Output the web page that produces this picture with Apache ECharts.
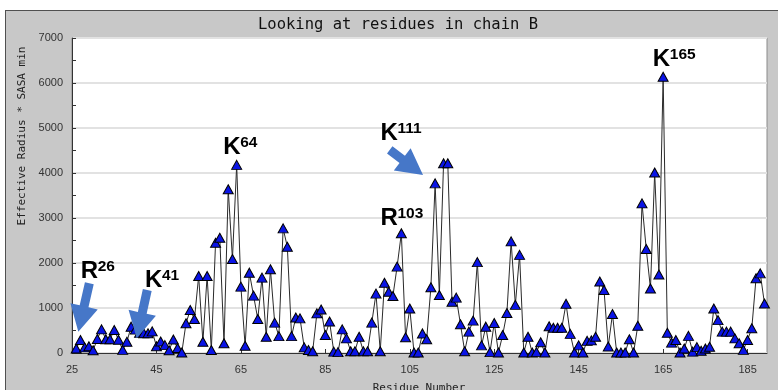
<!DOCTYPE html>
<html>
<head>
<meta charset="utf-8">
<script src="https://cdn.jsdelivr.net/npm/echarts@6/dist/echarts.min.js"></script>
<style>
html,body{margin:0;padding:0;background:#fff;overflow:hidden;}
#panel{position:absolute;left:5px;top:10px;width:800px;height:400px;background:#c8c8c8;border:1px solid #505050;}
#chart{position:absolute;left:0;top:0;width:778px;height:390px;}
</style>
</head>
<body>
<div id="panel"></div>
<div id="chart"></div>
<script>
// ---- data ----
const residues = [26,27,28,29,30,31,32,33,34,35,36,37,38,39,40,41,42,43,44,45,46,47,48,49,50,
51,52,53,54,55,56,57,58,59,60,61,62,63,64,65,66,67,68,69,70,71,72,73,74,75,76,77,78,79,80,
81,82,83,84,85,86,87,88,89,90,91,92,93,94,95,96,97,98,99,100,101,102,103,104,105,106,107,108,109,110,
111,112,113,114,115,116,117,118,119,120,121,122,123,124,125,126,127,128,129,130,131,132,133,134,135,136,137,138,139,140,
141,142,143,144,145,146,147,148,149,150,151,152,153,154,155,156,157,158,159,160,161,162,163,164,165,166,167,168,169,170,
171,172,173,174,175,176,177,178,179,180,181,182,183,184,185,186,187,188,189];
const effRadiusSasa = [100,290,125,150,60,310,525,305,305,510,295,70,250,585,520,450,440,440,480,150,255,175,60,300,110,
10,660,955,755,1710,250,1710,65,2450,2560,215,3640,2090,4180,1475,160,1785,1275,755,1675,360,1860,675,375,2770,2360,375,790,770,125,
65,40,880,965,400,700,30,20,525,325,40,40,360,40,40,675,1320,40,1560,1360,1265,1920,2660,350,990,10,10,435,305,1460,
3770,1290,4215,4215,1140,1230,640,40,475,720,2020,170,585,20,665,10,400,890,2480,1070,2180,10,360,10,20,240,10,595,560,560,
560,1095,425,10,170,10,270,280,360,1590,1400,145,865,10,10,10,305,10,605,3325,2310,1435,4010,1745,6140,450,230,290,10,100,
380,30,130,50,100,140,990,730,475,475,475,325,215,70,290,550,1660,1770,1100];
const xTicks = [25,45,65,85,105,125,145,165,185];
const yTicks = [0,1000,2000,3000,4000,5000,6000,7000];
const xMax = 189.6;
// annotations (labelled residues)
const annResidues = [26,41,64,103,111,165];
const annLetters  = ['R','K','K','R','K','K'];
const annDx = [4.5, 5.4, -13.5, -20.9, -54.7, -10.3];
const annDy = [-77.2, -52.7, -17.1, -14.6, -49.6, -17.0];
// arrows: residue, start offset, tip offset (from that residue's point)
const arrowResidues = [26, 41, 111];
const arrowStart = [[13.1,-65.2],[7.7,-42.7],[-45.4,-33.4]];
const arrowTip   = [[2.1,-16.8],[-2.9,5.5],[-12.1,-8.4]];

const chart = echarts.init(document.getElementById('chart'), null, {renderer:'canvas'});
const seriesData = residues.map((r,i)=>[r, effRadiusSasa[i]]);

chart.setOption({
  backgroundColor: 'transparent',
  animation: false,
  grid: {left:72, right:11, top:38, bottom:37, show:true, backgroundColor:'#ffffff', borderColor:'#8a8a8a', borderWidth:1},
  xAxis: {
    type:'value', min:xTicks[0], max:xMax, interval:xTicks[1]-xTicks[0],
    axisLine:{show:true, onZero:false, lineStyle:{color:'#333', width:1}},
    axisTick:{show:true, inside:true, length:4, lineStyle:{color:'#333'}},
    axisLabel:{show:true, margin:11, color:'#333', fontSize:11, fontFamily:'"Liberation Sans", Arial, sans-serif', showMaxLabel:false,
      formatter:(v)=> xTicks.indexOf(v) >= 0 ? String(v) : ''},
    splitLine:{show:false}
  },
  yAxis: {
    type:'value', min:yTicks[0], max:yTicks[yTicks.length-1], interval:yTicks[1]-yTicks[0],
    axisLine:{show:true, lineStyle:{color:'#333', width:1}},
    axisTick:{show:true, inside:true, length:4, lineStyle:{color:'#333'}},
    minorTick:{show:true, splitNumber:2, length:4, lineStyle:{color:'#333'}},
    axisLabel:{margin:9, color:'#333', fontSize:11, fontFamily:'"Liberation Sans", Arial, sans-serif',
      formatter:(v)=> String(v)},
    splitLine:{show:true, lineStyle:{color:'#e2e2e2', width:2}}
  },
  series: [{
    type:'line', data: seriesData, showAllSymbol:true,
    symbol:'triangle', symbolSize:[10,9],
    lineStyle:{color:'#2a2a2a', width:1},
    itemStyle:{color:'#0a14e6', borderColor:'#000', borderWidth:1},
    emphasis:{disabled:true}, z:3
  }]
});

function arrowPoly(S, T, w, h, L){
  const dx=T[0]-S[0], dy=T[1]-S[1], len=Math.hypot(dx,dy);
  const ux=dx/len, uy=dy/len, nx=-uy, ny=ux;
  const B=[T[0]-ux*L, T[1]-uy*L];
  return [[S[0]+nx*w,S[1]+ny*w],[B[0]+nx*w,B[1]+ny*w],[B[0]+nx*h,B[1]+ny*h],T,
          [B[0]-nx*h,B[1]-ny*h],[B[0]-nx*w,B[1]-ny*w],[S[0]-nx*w,S[1]-ny*w]];
}

const g = [];
g.push({type:'text', x:398, y:25, silent:true, style:{text:'Looking at residues in chain B', x:0, y:0,
  font:'15.5px "DejaVu Sans Mono", monospace', fill:'#111', textAlign:'center', textVerticalAlign:'middle', verticalAlign:'middle'}});
g.push({type:'text', x:22, y:136, rotation:Math.PI/2, silent:true, style:{text:'Effective Radius * SASA min', x:0, y:0,
  font:'11px "DejaVu Sans Mono", monospace', fill:'#222', textAlign:'center', textVerticalAlign:'middle', verticalAlign:'middle'}});
g.push({type:'text', x:419, y:388, silent:true, style:{text:'Residue Number', x:0, y:0,
  font:'11px "DejaVu Sans Mono", monospace', fill:'#222', textAlign:'center', textVerticalAlign:'middle', verticalAlign:'middle'}});

annResidues.forEach((r,i)=>{
  const idx = residues.indexOf(r);
  const p = chart.convertToPixel({seriesIndex:0}, [r, effRadiusSasa[idx]]);
  const lx = p[0]+annDx[i], ly = p[1]+annDy[i];
  g.push({type:'text', silent:true, z:10, style:{text:annLetters[i], x:lx, y:ly, font:'bold 24px "Liberation Sans", Arial, sans-serif',
    fill:'#000', textAlign:'left', textVerticalAlign:'middle', verticalAlign:'middle'}});
  g.push({type:'text', silent:true, z:10, style:{text:String(r), x:lx+17, y:ly-4.8, font:'bold 15.5px "Liberation Sans", Arial, sans-serif',
    fill:'#000', textAlign:'left', textVerticalAlign:'middle', verticalAlign:'middle'}});
});
arrowResidues.forEach((r,i)=>{
  const idx = residues.indexOf(r);
  const p = chart.convertToPixel({seriesIndex:0}, [r, effRadiusSasa[idx]]);
  const S=[p[0]+arrowStart[i][0], p[1]+arrowStart[i][1]];
  const T=[p[0]+arrowTip[i][0], p[1]+arrowTip[i][1]];
  g.push({type:'polygon', silent:true, z:10, shape:{points:arrowPoly(S,T,4.5,14,26)}, style:{fill:'#4677c8'}});
});
chart.setOption({graphic:g});
</script>
</body>
</html>
